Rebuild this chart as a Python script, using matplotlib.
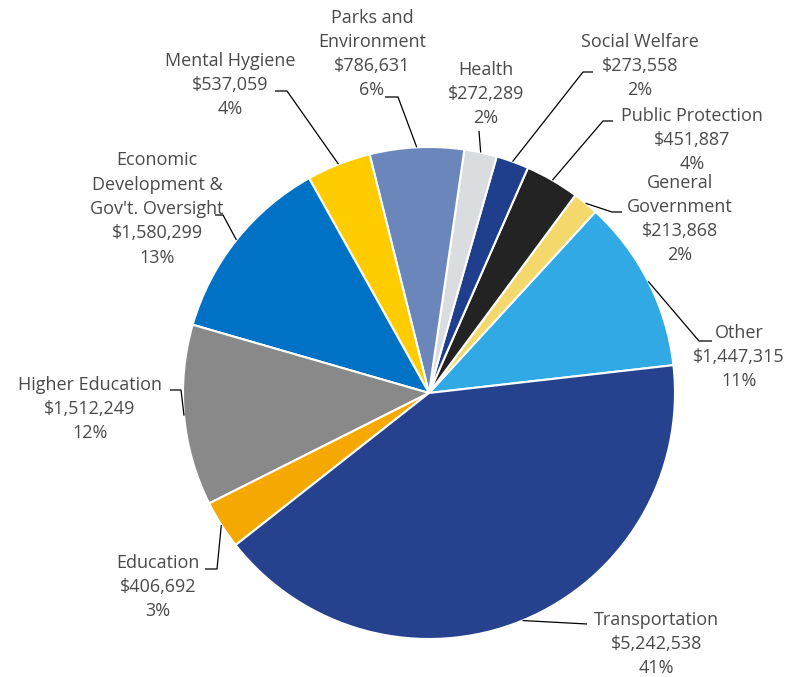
import numpy as np
import matplotlib
matplotlib.use("Agg")
import matplotlib.pyplot as plt

# spending by area, in dollars
areas = ["Other", "General\nGovernment", "Public Protection", "Social Welfare",
         "Health", "Parks and\nEnvironment", "Mental Hygiene",
         "Economic\nDevelopment &\nGov't. Oversight", "Higher Education",
         "Education", "Transportation"]
amounts = [1447315, 213868, 451887, 273558, 272289, 786631, 537059,
           1580299, 1512249, 406692, 5242538]
percents = [11, 2, 4, 2, 2, 6, 4, 13, 12, 3, 41]
colors = ["#31A9E5", "#F4D86C", "#232323", "#1F3F8C", "#D9DDE0", "#6A86BA",
          "#FFCC00", "#0072C5", "#898989", "#F4A800", "#26428F"]

W, H = 786, 677
cx, cy, R = 429, 393, 246

# label block centre, leader elbow, leader end (pixels from top-left)
label_pos = [(739, 357), (680, 219), (692, 140), (640, 66), (486, 94),
             (372, 54), (230, 85), (157, 209), (90, 409), (158, 587),
             (656, 644)]
elbows = [(699, 341), (612, 212), (603, 121), (583, 72), (479, 131),
          (398, 97), (287, 91), (223, 215), (181, 390), (217, 569),
          (587, 624)]
ends = [(712, 341), (622, 212), (613, 121), (593, 72), (479, 131),
        (385, 97), (275, 91), (215, 215), (170, 390), (205, 569),
        (587, 624)]

plt.rcParams['font.family'] = ['Open Sans', 'DejaVu Sans']

fig = plt.figure(figsize=(W / 100, H / 100), dpi=100)
ax = fig.add_axes([0, 0, 1, 1])

wedges, _ = ax.pie(amounts, colors=colors, startangle=6.5, radius=R,
                   center=(cx, H - cy),
                   wedgeprops=dict(edgecolor="white", linewidth=1.5))
ax.set_xlim(0, W)
ax.set_ylim(0, H)
ax.set_aspect("equal")
ax.axis("off")

for w, name, amt, pct, lp, el, en in zip(wedges, areas, amounts, percents,
                                         label_pos, elbows, ends):
    mid = np.deg2rad((w.theta1 + w.theta2) / 2)
    x0 = cx + R * np.cos(mid)
    y0 = H - cy + R * np.sin(mid)
    ax.plot([x0, el[0], en[0]], [y0, H - el[1], H - en[1]],
            color="black", lw=0.9, solid_capstyle="butt")
    ax.text(lp[0], H - lp[1], f"{name}\n${amt:,}\n{pct}%", ha="center",
            va="center", fontsize=13, color="#4A4A4A", linespacing=1.45)

fig.savefig("out.png", dpi=100)
